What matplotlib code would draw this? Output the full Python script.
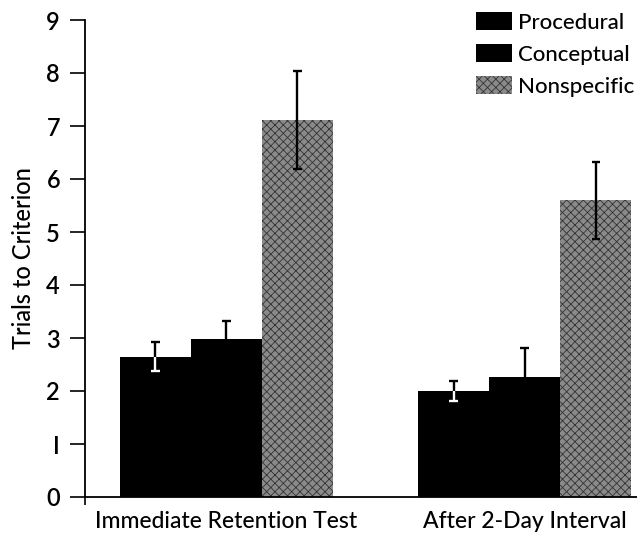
import matplotlib
matplotlib.use("Agg")
import matplotlib.pyplot as plt
import numpy as np

groups = ["Immediate Retention Test", "After 2-Day Interval"]
series = ["Procedural", "Conceptual", "Nonspecific"]
values = {
    "Procedural": [2.65, 2.0],
    "Conceptual": [2.98, 2.27],
    "Nonspecific": [7.11, 5.60],
}
errors = {
    "Procedural": [0.27, 0.19],
    "Conceptual": [0.35, 0.55],
    "Nonspecific": [0.93, 0.73],
}
yticks = [0, 1, 2, 3, 4, 5, 6, 7, 8, 9]
ytick_labels = ["0", "I", "2", "3", "4", "5", "6", "7", "8", "9"]

plt.rcParams['font.family'] = ['Lato', 'DejaVu Sans']
plt.rcParams['hatch.linewidth'] = 0.6

fig = plt.figure(figsize=(6.37, 5.35), dpi=100)
ax = fig.add_axes([85/637, 38/535, 552/637, 477/535])

centers = np.array([0.0, 4.2])
offsets = [-1, 0, 1]
styles = {
    "Procedural": dict(color="black"),
    "Conceptual": dict(color="black"),
    "Nonspecific": dict(facecolor="#8a8a8a", edgecolor="#333333", hatch="xxxx", linewidth=0),
}
lower_color = {"Procedural": "white", "Conceptual": "black", "Nonspecific": "black"}
cap = 0.06

handles = []
for s, off in zip(series, offsets):
    xs = centers + off
    b = ax.bar(xs, values[s], width=1.0, label=s, **styles[s])
    handles.append(b)
    for x, v, e in zip(xs, values[s], errors[s]):
        # upper half (black)
        ax.vlines(x, v, v + e, color="black", lw=1.7, zorder=3)
        ax.hlines(v + e, x - cap, x + cap, color="black", lw=1.7, zorder=3)
        # lower half
        lc = lower_color[s]
        ax.vlines(x, v - e, v, color=lc, lw=1.7, zorder=3)
        ax.hlines(v - e, x - cap, x + cap, color=lc, lw=1.7, zorder=3)

ax.set_xlim(-1.99, 5.78)
ax.set_ylim(0, 9)
ax.set_yticks(yticks)
ax.set_yticklabels(ytick_labels, fontsize=17, fontweight="semibold")
ax.set_xticks(centers)
ax.set_xticklabels(groups, fontsize=16.5, fontweight="medium")
ax.set_xticks([-1.99], minor=True)
ax.tick_params(axis="x", which="major", length=0, pad=10)
ax.tick_params(axis="x", which="minor", length=6, width=1.2, direction="out")
ax.tick_params(axis="y", direction="out", length=11, width=1.2, pad=7)
ax.spines["top"].set_visible(False)
ax.spines["right"].set_visible(False)
ax.spines["left"].set_linewidth(1.3)
ax.spines["bottom"].set_linewidth(1.3)
ax.set_ylabel("Trials to Criterion", fontsize=17, fontweight="medium", labelpad=8)

leg = ax.legend(handles=handles, labels=series, loc="upper right",
                bbox_to_anchor=(1.02, 1.045), frameon=False,
                prop={"size": 16, "weight": "medium"},
                handlelength=1.6, handleheight=0.9, handletextpad=0.3,
                labelspacing=0.5, borderaxespad=0.2)

fig.savefig("out.png", dpi=100)
